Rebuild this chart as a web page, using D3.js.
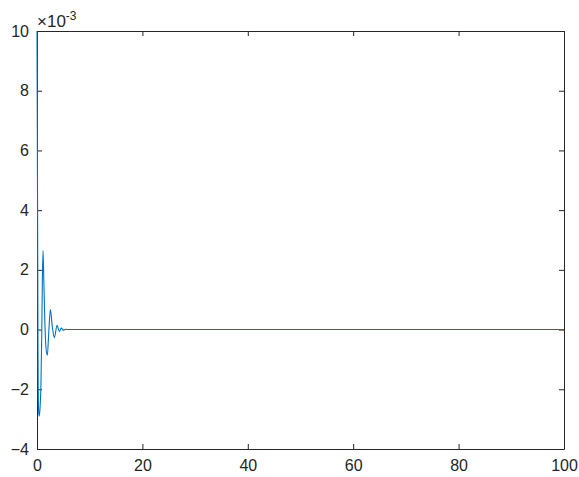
<!DOCTYPE html>
<html>
<head>
<meta charset="utf-8">
<script src="https://cdn.jsdelivr.net/npm/d3@7"></script>
<style>
	body { margin: 0; background: #fff; }
	svg text { font-family: Arial, "Liberation Sans", Helvetica, sans-serif; fill: #262626; }
</style>
</head>
<body>
<svg id="chart" width="579" height="477"></svg>
<script>
// response (y in units of 1e-3)
const tValues = [0, 0.1, 0.2, 0.3, 0.4, 0.55, 0.75, 0.9, 1.0, 1.14, 1.3, 1.5, 1.7, 1.97, 2.2, 2.54, 2.9, 3.3, 3.8, 4.25, 4.6, 5.0, 5.4, 6, 7, 100];
const yValues = [10, 4.5, -1.0, -2.7, -2.9, -2.7, -1.8, -0.2, 1.4, 2.65, 1.6, 0.2, -0.6, -0.86, -0.2, 0.67, 0.1, -0.27, 0.14, -0.06, 0.05, -0.02, 0.01, 0, 0, 0];
const xTicks = [0, 20, 40, 60, 80, 100];
const yTicks = [-4, -2, 0, 2, 4, 6, 8, 10];

const plotLeft = 37, plotRight = 564, plotTop = 31, plotBottom = 449;
const axisColor = '#262626';
const tickLen = 5;

const svg = d3.select('#chart');
const x = d3.scaleLinear().domain([0, 100]).range([plotLeft, plotRight]);
const y = d3.scaleLinear().domain([-4, 10]).range([plotBottom, plotTop]);

const data = tValues.map((t, i) => ({ t, v: yValues[i] }));

// axes: bottom/left with labels, top/right mirrored ticks only
function styleAxis(g) {
	g.select('.domain').attr('stroke', axisColor);
	g.selectAll('.tick line').attr('stroke', axisColor);
	g.selectAll('.tick text').style('font-size', '16px').style('fill', axisColor);
}
svg.append('g').attr('transform', `translate(0,${plotBottom})`)
	.call(d3.axisBottom(x).tickValues(xTicks).tickSizeInner(-tickLen).tickSizeOuter(0).tickPadding(11))
	.call(styleAxis);
svg.append('g').attr('transform', `translate(${plotLeft},0)`)
	.call(d3.axisLeft(y).tickValues(yTicks).tickSizeInner(-tickLen).tickSizeOuter(0).tickPadding(8))
	.call(styleAxis);
svg.append('g').attr('transform', `translate(0,${plotTop})`)
	.call(d3.axisTop(x).tickValues(xTicks).tickSizeInner(-tickLen).tickSizeOuter(0).tickFormat(''))
	.call(styleAxis);
svg.append('g').attr('transform', `translate(${plotRight},0)`)
	.call(d3.axisRight(y).tickValues(yTicks).tickSizeInner(-tickLen).tickSizeOuter(0).tickFormat(''))
	.call(styleAxis);

// curve
const line = d3.line().x(d => x(d.t)).y(d => y(d.v)).curve(d3.curveMonotoneX);
svg.append('path')
	.datum(data)
	.attr('fill', 'none')
	.attr('stroke', '#0072BD')
	.attr('stroke-width', 1.1)
	.attr('d', line);

// exponent label
const expo = svg.append('text').attr('x', 37).attr('y', 27).style('font-size', '17px');
expo.append('tspan').text('×10');
expo.append('tspan').style('font-size', '12px').attr('dy', -7).text('-3');
</script>
</body>
</html>
